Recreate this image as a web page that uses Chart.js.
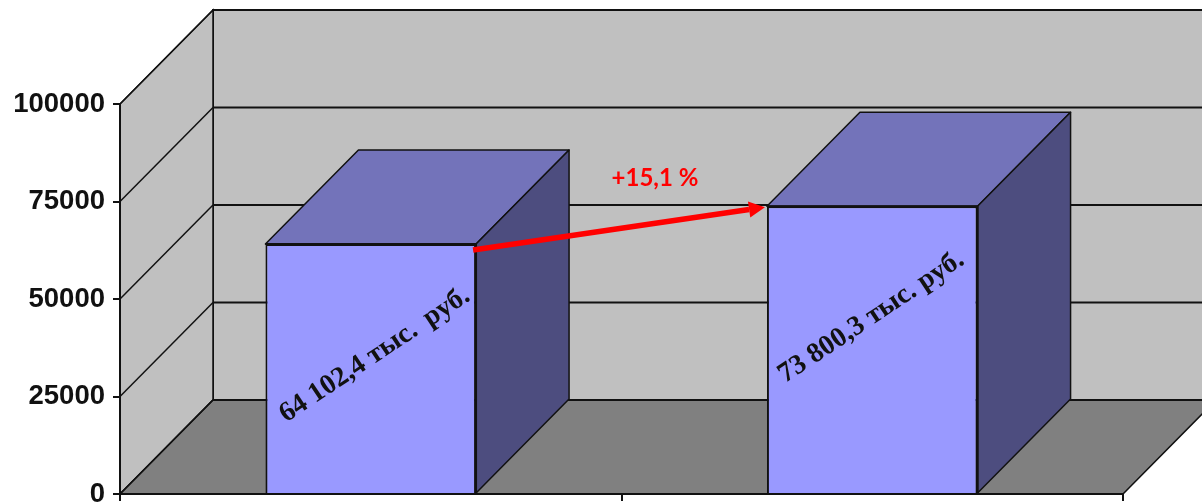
<!DOCTYPE html>
<html lang="ru">
<head>
<meta charset="utf-8">
<title>chart</title>
<script src="https://cdn.jsdelivr.net/npm/chart.js@4"></script>
<style>
  html, body { margin: 0; padding: 0; background: #fff; overflow: hidden; }
  canvas { display: block; }
</style>
</head>
<body>
<canvas id="myBarChart" width="1202" height="502"></canvas>
<script>
// data
const categories = ['1', '2'];
const seriesValues = [64102.4, 73800.3];
const barLabels = ['64 102,4 тыс.\u2009 руб.', '73 800,3 тыс. руб.'];
const tickValues = [0, 25000, 50000, 75000, 100000];
const changeLabel = '+15,1 %';

// 3d look of the old excel chart
const depthX = 93;
const depthY = 94;
// the labels were moved by hand in the original
const labelShiftX = [4, -1];

function poly(ctx, pts, fill, lineW) {
  ctx.beginPath();
  ctx.moveTo(pts[0][0], pts[0][1]);
  for (let i = 1; i < pts.length; i++) ctx.lineTo(pts[i][0], pts[i][1]);
  ctx.closePath();
  ctx.fillStyle = fill;
  ctx.fill();
  ctx.lineWidth = lineW;
  ctx.strokeStyle = '#111';
  ctx.stroke();
}

const box3d = {
  id: 'box3d',
  // walls and floor go under the axes
  beforeDraw(chart) {
    const ctx = chart.ctx;
    const a = chart.chartArea;
    const y = chart.scales.y;
    ctx.save();
    ctx.lineJoin = 'miter';
    poly(ctx, [[a.left + depthX, a.top - depthY], [a.right + depthX, a.top - depthY], [a.right + depthX, a.bottom - depthY], [a.left + depthX, a.bottom - depthY]], '#C0C0C0', 2);
    poly(ctx, [[a.left, a.bottom], [a.left + depthX, a.bottom - depthY], [a.left + depthX, a.top - depthY], [a.left, a.top]], '#C0C0C0', 1.5);
    poly(ctx, [[a.left, a.bottom], [a.right, a.bottom], [a.right + depthX, a.bottom - depthY], [a.left + depthX, a.bottom - depthY]], '#808080', 1.5);
    ctx.strokeStyle = '#111';
    tickValues.forEach(function(v) {
      const py = y.getPixelForValue(v);
      ctx.lineWidth = 1.5;
      ctx.beginPath();
      ctx.moveTo(a.left, py);
      ctx.lineTo(a.left + depthX, py - depthY);
      ctx.stroke();
      ctx.lineWidth = 2;
      ctx.beginPath();
      ctx.moveTo(a.left + depthX, py - depthY);
      ctx.lineTo(a.right + depthX, py - depthY);
      ctx.stroke();
    });
    ctx.restore();
  },
  afterDatasetsDraw(chart) {
    const ctx = chart.ctx;
    const bars = chart.getDatasetMeta(0).data;
    ctx.save();
    ctx.lineJoin = 'round';
    bars.forEach(function(b) {
      const l = b.x - b.width / 2;
      const r = b.x + b.width / 2;
      poly(ctx, [[l, b.y], [r, b.y], [r + depthX, b.y - depthY], [l + depthX, b.y - depthY]], '#7373BA', 1.5);
      poly(ctx, [[r, b.y], [r + depthX, b.y - depthY], [r + depthX, b.base - depthY], [r, b.base]], '#4D4D7F', 1.5);
      // redraw the edge of the front face
      ctx.lineWidth = 2;
      ctx.beginPath();
      ctx.moveTo(l, b.y);
      ctx.lineTo(r, b.y);
      ctx.lineTo(r, b.base);
      ctx.stroke();
    });

    // rotated value labels
    ctx.font = 'bold 28px "Liberation Serif"';
    ctx.fillStyle = '#111';
    ctx.textAlign = 'center';
    ctx.textBaseline = 'middle';
    bars.forEach(function(b, i) {
      ctx.save();
      ctx.translate(b.x + labelShiftX[i], b.y + 111);
      ctx.rotate(-33.7 * Math.PI / 180);
      ctx.fillText(barLabels[i], 0, 0);
      ctx.restore();
    });

    // growth arrow between the two bars
    const x1 = bars[0].x + bars[0].width / 2 - 3;
    const y1 = bars[0].y + 6;
    const x2 = bars[1].x - bars[1].width / 2 - 2;
    const y2 = bars[1].y + 1;
    const ang = Math.atan2(y2 - y1, x2 - x1);
    const headLen = 16;
    const headW = 8;
    const nx = x2 - headLen * Math.cos(ang);
    const ny = y2 - headLen * Math.sin(ang);
    ctx.strokeStyle = '#FF0000';
    ctx.fillStyle = '#FF0000';
    ctx.lineWidth = 5.5;
    ctx.lineCap = 'butt';
    ctx.beginPath();
    ctx.moveTo(x1, y1);
    ctx.lineTo(nx, ny);
    ctx.stroke();
    ctx.beginPath();
    ctx.moveTo(x2, y2);
    ctx.lineTo(nx - headW * Math.sin(ang), ny + headW * Math.cos(ang));
    ctx.lineTo(nx + headW * Math.sin(ang), ny - headW * Math.cos(ang));
    ctx.closePath();
    ctx.fill();

    ctx.font = 'bold 24px Lato';
    ctx.textAlign = 'center';
    ctx.textBaseline = 'alphabetic';
    ctx.fillText(changeLabel, (x1 + x2) / 2 + 36, 186);
    ctx.restore();
  }
};

const ctx = document.getElementById('myBarChart').getContext('2d');
const myBarChart = new Chart(ctx, {
  type: 'bar',
  data: {
    labels: categories,
    datasets: [{
      data: seriesValues,
      backgroundColor: '#9999FF',
      borderColor: '#111',
      borderWidth: 2,
      categoryPercentage: 1,
      barPercentage: 0.42
    }]
  },
  options: {
    responsive: false,
    animation: false,
    layout: { padding: { top: 104, right: 79, left: 0, bottom: 0 } },
    plugins: { legend: { display: false }, tooltip: { enabled: false } },
    scales: {
      x: {
        afterFit(s) { s.height = 8; },
        border: { color: '#111', width: 2 },
        grid: { drawOnChartArea: false, color: '#111', lineWidth: 2, tickLength: 7, offset: true },
        ticks: { display: false }
      },
      y: {
        min: 0,
        max: 100000,
        // the 0 label hangs below the axis, do not let it push the plot up
        afterFit(s) { s.width = 120; s.paddingBottom = 0; s.paddingTop = 0; },
        afterBuildTicks(s) { s.ticks = tickValues.map(function(v) { return { value: v }; }); },
        border: { color: '#111', width: 2 },
        grid: { drawOnChartArea: false, color: '#111', lineWidth: 2, tickLength: 7 },
        ticks: {
          color: '#111',
          padding: 8,
          font: { family: '"Liberation Sans"', weight: 'bold', size: 27.5 },
          callback(v) { return String(v); }
        }
      }
    }
  },
  plugins: [box3d]
});
</script>
</body>
</html>
